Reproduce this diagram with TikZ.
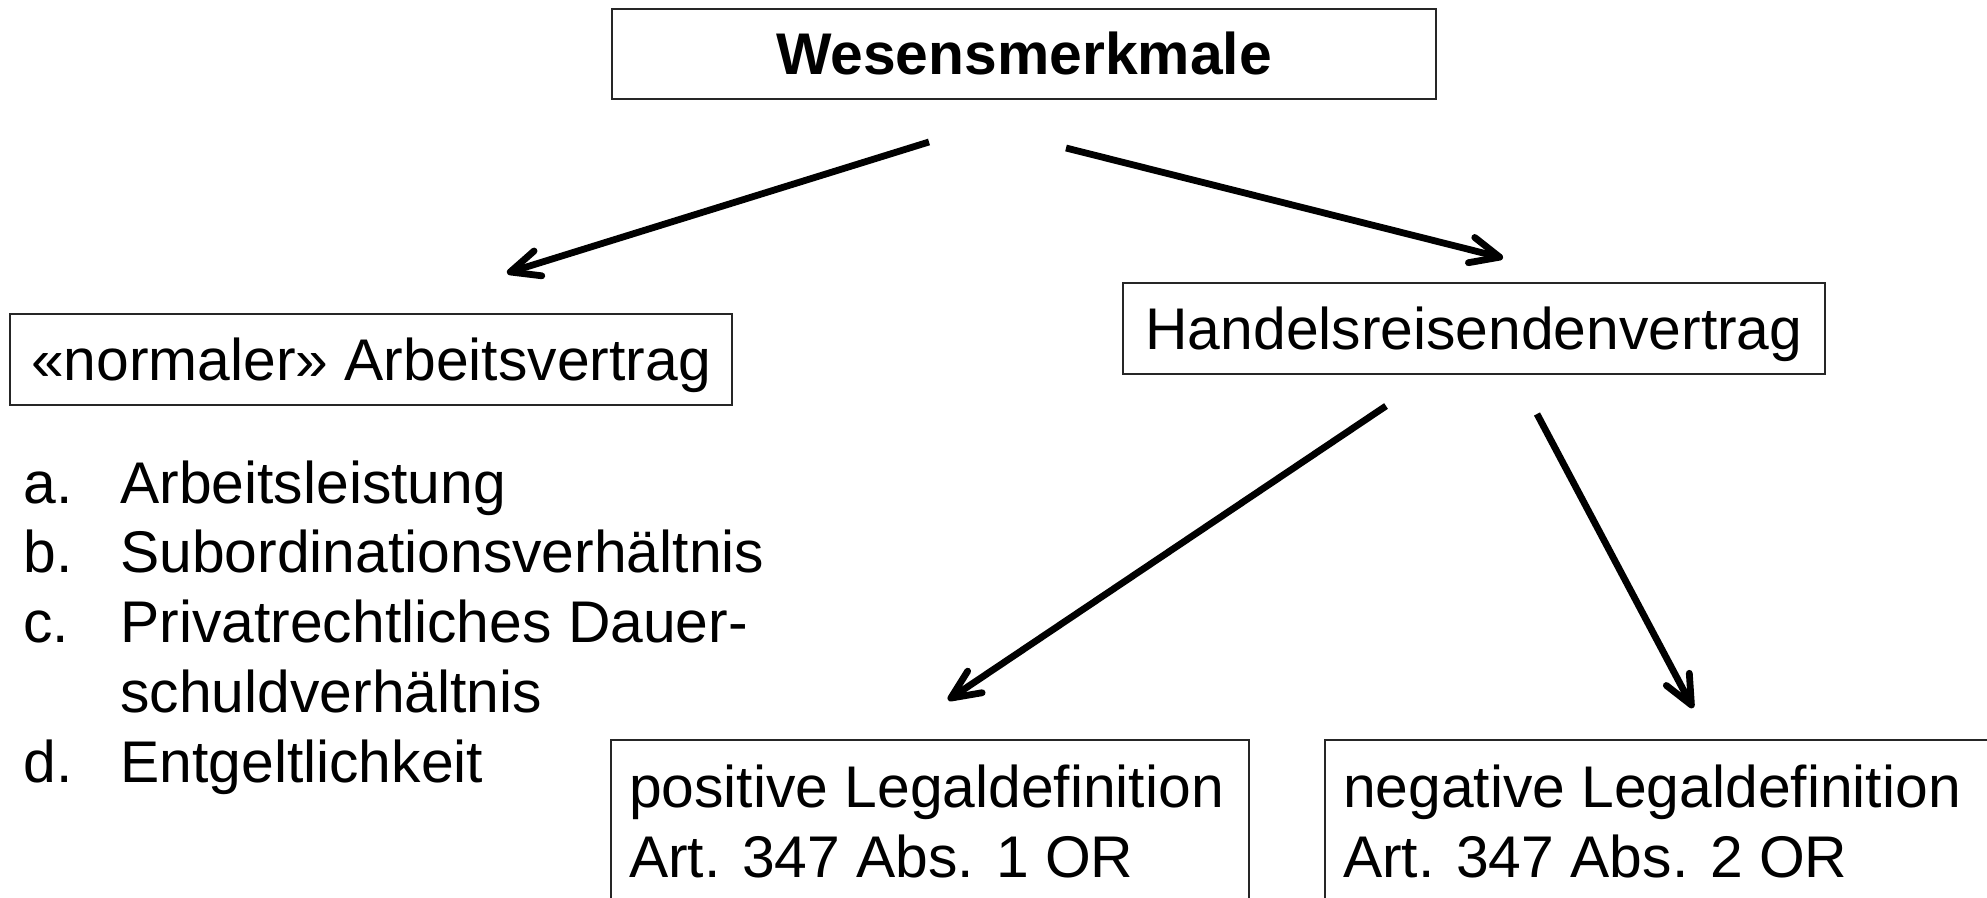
\documentclass[tikz,border=0pt]{standalone}
\usepackage{fontspec}
\setmainfont{Liberation Sans}
\usetikzlibrary{arrows.meta}
\begin{document}
\begin{tikzpicture}[x=0.5pt,y=-0.5pt,
  txt/.style={font=\fontsize{29.4}{34.9}\selectfont},
  headbox/.style={draw=black!85, line width=1pt, inner sep=0pt, outer sep=0pt, text height=21pt, text depth=0pt, txt},
  defbox/.style={draw=black!85, line width=1pt, anchor=north west, inner xsep=9pt, inner ysep=12.3pt, outer sep=0pt, text height=21.3pt, text depth=60pt, txt},
  conn/.style={line width=3.4pt, -{Straight Barb[length=14.5pt,width=13pt,round]}}]
\useasboundingbox (0,0) rectangle (1987,898);
\clip (0,0) rectangle (1987,898);
\fill[white] (0,0) rectangle (1987,898);
% boxes
\node[headbox, minimum width=412pt, minimum height=45pt, font=\bfseries\fontsize{29.4}{34.9}\selectfont] (top) at (1024,54) {Wesensmerkmale};
\node[headbox, minimum width=361pt, minimum height=45.5pt] (arb) at (371,359.5) {«normaler» Arbeitsvertrag};
\node[headbox, minimum width=351pt, minimum height=45.5pt] (hrv) at (1474,328.5) {Handelsreisendenvertrag};
% list
\node[txt, anchor=base west, inner sep=0pt] (list) at (23,503) {\begin{tabular}[t]{@{}p{48.5pt}@{}l@{}}a.&Arbeitsleistung\\ b.&Subordinationsverhältnis\\ c.&Privatrechtliches Dauer-\\ &schuldverhältnis\\ d.&Entgeltlichkeit\end{tabular}};
% definition boxes
\node[defbox] (pos) at (611,740) {\parbox[t]{301pt}{\noindent positive Legaldefinition\\Art. 347 Abs. 1 OR}};
\node[defbox] (neg) at (1325,740) {\parbox[t]{340pt}{\noindent negative Legaldefinition\\Art. 347 Abs. 2 OR}};
% connectors
\coordinate (s1) at (929,142);  \coordinate (e1) at (507,273);
\coordinate (s2) at (1066,148); \coordinate (e2) at (1503,258);
\coordinate (s3) at (1386,406); \coordinate (e3) at (948,700);
\coordinate (s4) at (1537,414); \coordinate (e4) at (1693,708);
\draw[conn] (s1) -- (e1);
\draw[conn] (s2) -- (e2);
\draw[conn] (s3) -- (e3);
\draw[conn] (s4) -- (e4);
\end{tikzpicture}
\end{document}
